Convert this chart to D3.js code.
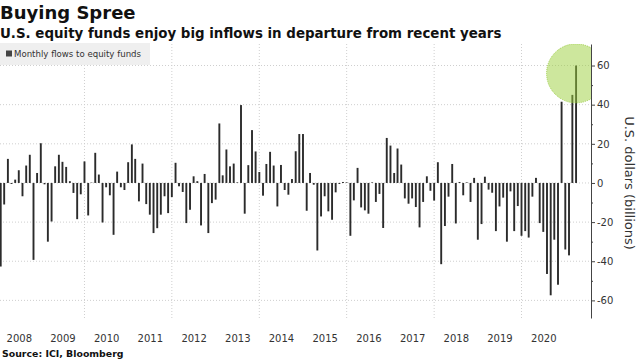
<!DOCTYPE html>
<html>
<head>
<meta charset="utf-8">
<script src="https://cdn.jsdelivr.net/npm/d3@7"></script>
<style>
  body { margin: 0; background: #fff; }
  svg { display: block; font-family: "DejaVu Sans", sans-serif; }
</style>
</head>
<body>
<div id="chart"></div>
<script>
// Monthly flows to U.S. equity funds, billions of dollars, Jan 2008 .. Mar 2021
const startYear = 2008;
const flows = [
  -42.7, -11, 12.3, -0.5, 1.7, 6.5, -6.8, 8.9, 14.4, -39.3, 5.1, 20.3,      // 2008
  -0.7, -30, -19.7, 8.5, 14.4, 10.8, 8.2, 0.9, -5.1, -18.5, -5.8, 11,       // 2009
  -16.6, 0.2, 15.4, 4.3, -20.2, -2.2, -6.3, -26.5, 5.8, -2.2, -3.6, 10.6,   // 2010
  19.7, 12.3, -9.4, 9.9, -10.8, -16.2, -25.6, -23.1, -16.2, -6.8, -15.4, -7.2, // 2011
  10.3, -1.7, -4.6, -20.5, -13.7, 3.4, 0.9, -21.7, 4.6, -25.6, -10.3, -8.5, // 2012
  30.4, 3.9, 17.1, 8.5, 9.9, 0.3, 39.8, -15.7, 9.1, 27, 16.1, 5.6,          // 2013
  -6.5, 9.7, 15.9, 8.9, -12, 9.2, -3.6, -6, 2, 16.2, 25, 25,                // 2014
  -14.2, 5.1, -0.9, -34.5, -17.1, -6.8, -14.5, -18.8, -4.8, -0.5, 0.5, 0.3, // 2015
  -27, -8.9, 7.7, -12.5, -14, -15.7, 0.3, -9.7, -5.6, -23, 23, 19.1,        // 2016
  5.1, 17.6, 9.4, -7.9, -10.6, -7.9, -12.3, -22.7, -9.7, 3.4, -4, -9,       // 2017
  10.6, -41.5, -22, -7, 9.7, -20.7, 0.5, -6.3, 0.3, -9.7, 2.6, -29,         // 2018
  -21, 3.2, -3.4, -5, -24.6, -12, -7.5, -30, -4.3, -24.6, -11.8, -27,       // 2019
  -24.6, -27.9, -7, 2.6, -20.5, -25, -46.5, -57.4, -29, -52, 41.5, -34,     // 2020
  -37, 45, 60                                                               // 2021
];
const yearLabels = [2008, 2009, 2010, 2011, 2012, 2013, 2014, 2015, 2016, 2017, 2018, 2019, 2020];
const gridYears = [2010, 2012, 2014, 2016, 2018, 2020];
const yTicks = [-60, -40, -20, 0, 20, 40, 60];
const yMinorTicks = [-50, -30, -10, 10, 30, 50];
const highlightValue = 56;

// bars sit at the end of each month
const data = flows.map((v, i) => ({ date: new Date(startYear, i + 1, 1), value: v }));

const width = 640, height = 360;
const plotTop = 44, plotBottom = 318, plotLeft = 0, plotRight = 591;

const svg = d3.select("#chart")
              .append("svg")
              .attr("width", width)
              .attr("height", height);

const x = d3.scaleTime()
            .domain([new Date(2008, 0, 1), new Date(2020, 0, 1)])
            .range([-3, 521.5]);

const y = d3.scaleLinear()
            .domain([-69, 71])
            .range([plotBottom, plotTop]);

svg.append("clipPath")
   .attr("id", "plot")
   .append("rect")
   .attr("x", plotLeft)
   .attr("y", plotTop)
   .attr("width", plotRight - plotLeft)
   .attr("height", plotBottom - plotTop);

// titles
svg.append("text")
   .attr("x", 0)
   .attr("y", 19)
   .style("font-size", "18px")
   .style("font-weight", "bold")
   .attr("fill", "#111")
   .text("Buying Spree");

svg.append("text")
   .attr("x", 0)
   .attr("y", 38)
   .style("font-size", "13.4px")
   .style("font-weight", "bold")
   .attr("fill", "#111")
   .text("U.S. equity funds enjoy big inflows in departure from recent years");

// grid
svg.append("g")
   .selectAll("line")
   .data(yTicks)
   .enter()
   .append("line")
   .attr("x1", plotLeft)
   .attr("x2", plotRight)
   .attr("y1", d => y(d))
   .attr("y2", d => y(d))
   .attr("stroke", "#cfcfcf")
   .attr("stroke-dasharray", "1,2");

svg.append("g")
   .selectAll("line")
   .data(gridYears)
   .enter()
   .append("line")
   .attr("x1", d => x(new Date(d, 0, 1)))
   .attr("x2", d => x(new Date(d, 0, 1)))
   .attr("y1", plotTop)
   .attr("y2", plotBottom)
   .attr("stroke", "#cfcfcf")
   .attr("stroke-dasharray", "1,2");

// legend
const legend = svg.append("g");
legend.append("rect")
      .attr("x", 0)
      .attr("y", 43)
      .attr("width", 150)
      .attr("height", 22)
      .attr("fill", "#efefef");
legend.append("rect")
      .attr("x", 6)
      .attr("y", 50.5)
      .attr("width", 6)
      .attr("height", 6)
      .attr("fill", "#444");
legend.append("text")
      .attr("x", 14)
      .attr("y", 57)
      .style("font-size", "8.6px")
      .attr("fill", "#333")
      .text("Monthly flows to equity funds");

// bars
svg.append("g")
   .attr("clip-path", "url(#plot)")
   .selectAll("rect")
   .data(data)
   .enter()
   .append("rect")
   .attr("x", d => x(d.date) - 0.95)
   .attr("y", d => y(Math.max(0, d.value)))
   .attr("width", 1.9)
   .attr("height", d => Math.abs(y(d.value) - y(0)))
   .attr("fill", "#2b2b2b");

// highlight circle on the latest month
svg.append("circle")
   .attr("clip-path", "url(#plot)")
   .attr("cx", x(data[data.length - 1].date))
   .attr("cy", y(highlightValue))
   .attr("r", 29.5)
   .attr("fill", "rgba(155, 208, 60, 0.5)")
   .attr("stroke", "#9fcf4a")
   .attr("stroke-dasharray", "1,1");

// y axis
const yAxis = svg.append("g")
   .attr("transform", `translate(${plotRight},0)`)
   .call(d3.axisRight(y).tickValues(yTicks).tickSize(4).tickSizeOuter(0).tickPadding(2).tickFormat(d => String(d)));
yAxis.select(".domain").attr("stroke", "#444");
yAxis.selectAll(".tick line").attr("stroke", "#444");
yAxis.selectAll("text")
     .style("font-size", "10px")
     .style("font-family", "DejaVu Sans, sans-serif")
     .attr("fill", "#333");

svg.append("g")
   .attr("transform", `translate(${plotRight},0)`)
   .call(d3.axisRight(y).tickValues(yMinorTicks).tickSize(2).tickFormat(""))
   .call(g => g.select(".domain").remove())
   .selectAll(".tick line").attr("stroke", "#444");

svg.append("text")
   .attr("transform", "translate(625,183) rotate(90)")
   .attr("text-anchor", "middle")
   .style("font-size", "13px")
   .attr("fill", "#333")
   .text("U.S. dollars (billions)");

// x axis, labels centred on each year
const xAxis = svg.append("g")
   .attr("transform", `translate(0,${plotBottom})`)
   .call(d3.axisBottom(x)
           .tickValues(yearLabels.map(yr => new Date(yr, 6, 1)))
           .tickSize(0)
           .tickPadding(17)
           .tickFormat(d3.timeFormat("%Y")));
xAxis.select(".domain").remove();
xAxis.selectAll("text")
     .style("font-size", "10px")
     .style("font-family", "DejaVu Sans, sans-serif")
     .attr("fill", "#333");

svg.append("text")
   .attr("x", 2)
   .attr("y", 357)
   .style("font-size", "9.4px")
   .style("font-weight", "bold")
   .attr("fill", "#111")
   .text("Source: ICI, Bloomberg");
</script>
</body>
</html>
